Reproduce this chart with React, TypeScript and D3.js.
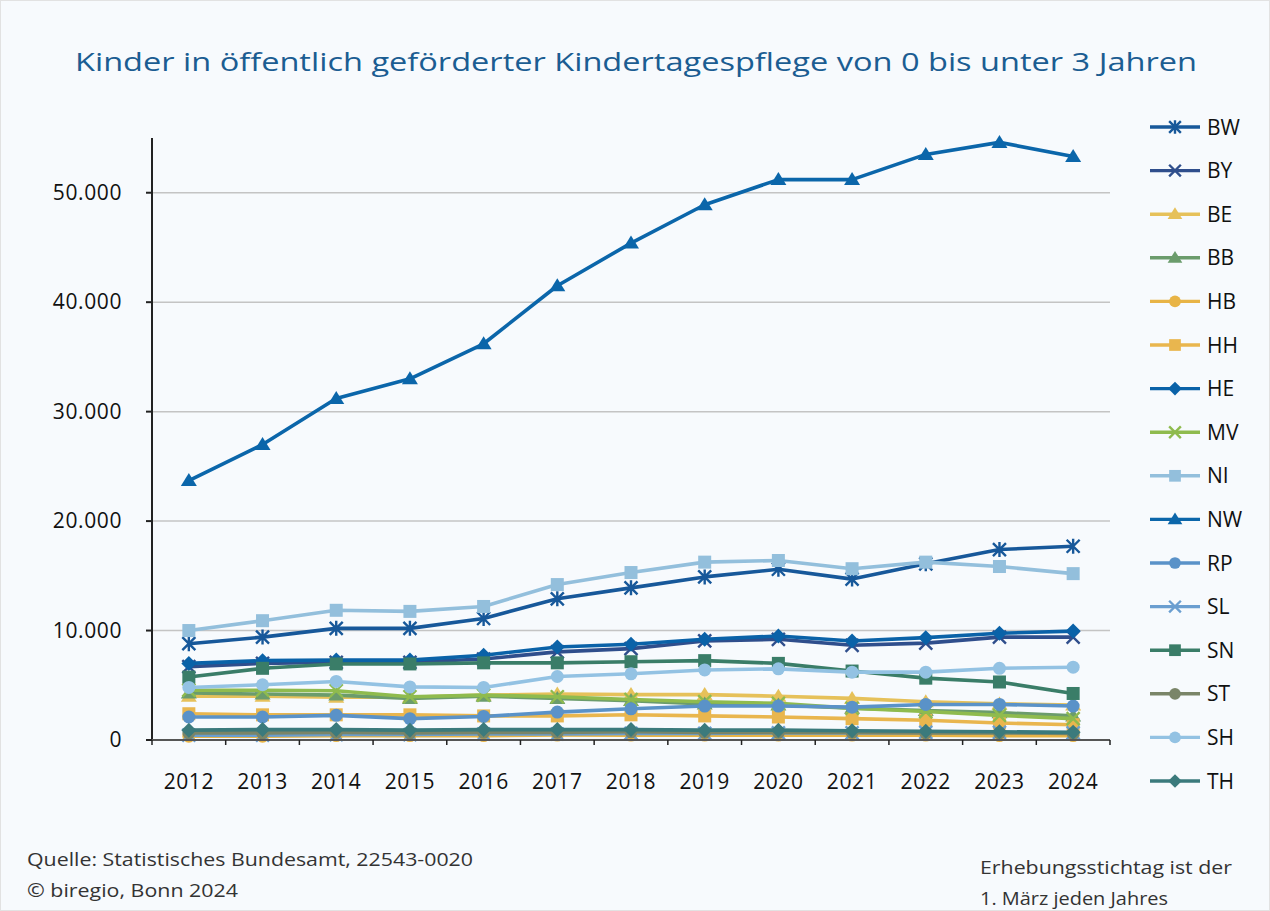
import React from "react";
import * as d3 from "d3";

const years = ["2012","2013","2014","2015","2016","2017","2018","2019","2020","2021","2022","2023","2024"];
const yTicks = [0, 10000, 20000, 30000, 40000, 50000];

const BW = [8800, 9400, 10200, 10200, 11100, 12900, 13900, 14900, 15600, 14700, 16100, 17400, 17700];
const BY = [6700, 7000, 7100, 7100, 7400, 8050, 8350, 9050, 9200, 8650, 8850, 9400, 9400];
const BE = [4000, 4000, 3900, 3900, 4100, 4200, 4150, 4150, 4000, 3800, 3500, 3300, 3200];
const BB = [4300, 4200, 4100, 3800, 4000, 3800, 3600, 3300, 3200, 2900, 2700, 2500, 2200];
const HB = [350, 350, 400, 400, 400, 450, 450, 450, 450, 450, 450, 400, 400];
const HH = [2400, 2300, 2300, 2300, 2200, 2200, 2300, 2200, 2100, 1950, 1800, 1550, 1400];
const HE = [7000, 7250, 7300, 7300, 7750, 8500, 8750, 9200, 9500, 9050, 9350, 9750, 9950];
const MV = [4550, 4550, 4500, 3950, 4100, 3950, 3700, 3500, 3350, 2900, 2600, 2250, 1950];
const NI = [10000, 10900, 11850, 11750, 12200, 14200, 15300, 16250, 16400, 15650, 16250, 15850, 15200];
const NW = [23700, 27000, 31200, 33000, 36200, 41500, 45400, 48900, 51200, 51200, 53500, 54600, 53300];
const RP = [2100, 2100, 2250, 1950, 2150, 2550, 2850, 3100, 3100, 3000, 3250, 3250, 3100];
const SL = [450, 450, 500, 500, 550, 550, 600, 600, 650, 650, 700, 700, 650];
const SN = [5750, 6550, 6950, 6950, 7050, 7050, 7150, 7250, 7000, 6300, 5650, 5300, 4250];
const ST = [650, 650, 700, 650, 700, 700, 750, 700, 700, 700, 650, 650, 600];
const SH = [4800, 5050, 5350, 4850, 4800, 5800, 6050, 6400, 6500, 6200, 6200, 6550, 6650];
const TH = [900, 950, 950, 900, 950, 950, 950, 900, 900, 850, 800, 750, 700];

type Shape = "asterisk" | "x" | "triangle" | "circle" | "square" | "diamond";
const series: { name: string; values: number[]; color: string; shape: Shape }[] = [
  { name: "BW", values: BW, color: "#17589a", shape: "asterisk" },
  { name: "BY", values: BY, color: "#2f4e8c", shape: "x" },
  { name: "BE", values: BE, color: "#e6c15a", shape: "triangle" },
  { name: "BB", values: BB, color: "#6b9c6c", shape: "triangle" },
  { name: "HB", values: HB, color: "#e8b446", shape: "circle" },
  { name: "HH", values: HH, color: "#e9b64e", shape: "square" },
  { name: "HE", values: HE, color: "#0a62a8", shape: "diamond" },
  { name: "MV", values: MV, color: "#8fbb4e", shape: "x" },
  { name: "NI", values: NI, color: "#93bfdc", shape: "square" },
  { name: "NW", values: NW, color: "#0b66aa", shape: "triangle" },
  { name: "RP", values: RP, color: "#5a92c8", shape: "circle" },
  { name: "SL", values: SL, color: "#6a9ed0", shape: "x" },
  { name: "SN", values: SN, color: "#3a7d68", shape: "square" },
  { name: "ST", values: ST, color: "#7a8568", shape: "circle" },
  { name: "SH", values: SH, color: "#93c2e3", shape: "circle" },
  { name: "TH", values: TH, color: "#3b7a7c", shape: "diamond" },
];

const W = 1270, H = 911;
const left = 152, right = 1110, top = 138, bottom = 740;
const FONT = "'Open Sans', 'Noto Sans', sans-serif";

const de = d3.formatLocale({ decimal: ",", thousands: ".", grouping: [3], currency: ["", "€"] });
const fmt = de.format(",");

function Marker({ shape, x, y, color, s = 1 }: { shape: Shape; x: number; y: number; color: string; s?: number }) {
  const r = 6.5 * s;
  switch (shape) {
    case "circle":
      return <circle cx={x} cy={y} r={r} fill={color} />;
    case "square":
      return <rect x={x - r} y={y - r} width={2 * r} height={2 * r} fill={color} />;
    case "diamond":
      return <path d={`M${x},${y - r - 1}L${x + r + 1},${y}L${x},${y + r + 1}L${x - r - 1},${y}Z`} fill={color} />;
    case "triangle":
      return <path d={`M${x},${y - r - 1}L${x + r + 1.5},${y + r - 1}L${x - r - 1.5},${y + r - 1}Z`} fill={color} />;
    case "x":
      return <path d={`M${x - r},${y - r}L${x + r},${y + r}M${x - r},${y + r}L${x + r},${y - r}`} stroke={color} strokeWidth={2.4} />;
    case "asterisk":
      return <path d={`M${x - r},${y - r}L${x + r},${y + r}M${x - r},${y + r}L${x + r},${y - r}M${x},${y - r - 1}L${x},${y + r + 1}`} stroke={color} strokeWidth={2.4} />;
  }
}

export default function App() {
  const x = d3.scaleBand<string>().domain(years).range([left, right]).padding(0);
  const y = d3.scaleLinear().domain([0, 55000]).range([bottom, top]);
  const cx = (yr: string) => (x(yr) as number) + x.bandwidth() / 2;
  const line = d3.line<number>().x((_, i) => cx(years[i])).y((v) => y(v));

  const legX = 1150, legY0 = 127, legStep = 43.6;

  return (
    <svg width={W} height={H} style={{ position: "absolute", left: 0, top: 0, background: "#f7fafd" }}>
      <rect x={0.5} y={0.5} width={W - 1} height={H - 1} fill="#f7fafd" stroke="#e2e2e2" />
      <text x={636} y={71} textAnchor="middle" fontFamily={FONT} fontSize={26} fontWeight={500} fill="#1b5d92" textLength={1122} lengthAdjust="spacingAndGlyphs">
        Kinder in öffentlich geförderter Kindertagespflege von 0 bis unter 3 Jahren
      </text>

      {yTicks.map((t) => (
        <g key={t}>
          {t > 0 && <line x1={left} x2={right} y1={y(t)} y2={y(t)} stroke="#c4c4c4" strokeWidth={1.5} />}
          <line x1={left - 6} x2={left} y1={y(t)} y2={y(t)} stroke="#222" strokeWidth={2} />
          <text x={122} y={y(t) + 7} textAnchor="end" fontFamily={FONT} fontSize={21} fontWeight={500} fill="#111" letterSpacing={0.6}>
            {fmt(t)}
          </text>
        </g>
      ))}

      {series.map((s) => (
        <g key={s.name}>
          <path d={line(s.values) as string} fill="none" stroke={s.color} strokeWidth={3.6} strokeLinejoin="round" />
          {s.values.map((v, i) => (
            <Marker key={i} shape={s.shape} x={cx(years[i])} y={y(v)} color={s.color} />
          ))}
        </g>
      ))}

      <line x1={left} x2={left} y1={top} y2={bottom} stroke="#222" strokeWidth={2} />
      <line x1={left} x2={right} y1={bottom} y2={bottom} stroke="#555" strokeWidth={2} />
      {years.map((yr) => (
        <line key={yr} x1={x(yr) as number} x2={x(yr) as number} y1={bottom} y2={bottom + 5} stroke="#222" strokeWidth={1.5} />
      ))}
      <line x1={right} x2={right} y1={bottom} y2={bottom + 5} stroke="#222" strokeWidth={1.5} />
      {years.map((yr) => (
        <text key={yr} x={cx(yr)} y={789} textAnchor="middle" fontFamily={FONT} fontSize={21} fontWeight={500} fill="#111" letterSpacing={0.6}>
          {yr}
        </text>
      ))}

      {series.map((s, i) => {
        const ly = legY0 + i * legStep;
        return (
          <g key={s.name}>
            <line x1={legX} x2={legX + 50} y1={ly} y2={ly} stroke={s.color} strokeWidth={3.4} />
            <Marker shape={s.shape} x={legX + 25} y={ly} color={s.color} s={0.9} />
            <text x={legX + 57} y={ly + 7.5} fontFamily={FONT} fontSize={21} fontWeight={500} fill="#111">
              {s.name}
            </text>
          </g>
        );
      })}

      <text x={27} y={866} fontFamily={FONT} fontSize={18} fill="#333" textLength={446} lengthAdjust="spacingAndGlyphs">Quelle: Statistisches Bundesamt, 22543-0020</text>
      <text x={27} y={897} fontFamily={FONT} fontSize={18} fill="#333" textLength={211} lengthAdjust="spacingAndGlyphs">© biregio, Bonn 2024</text>
      <text x={980} y={874} fontFamily={FONT} fontSize={18} fill="#333" textLength={252} lengthAdjust="spacingAndGlyphs">Erhebungsstichtag ist der</text>
      <text x={980} y={905} fontFamily={FONT} fontSize={18} fill="#333" textLength={188} lengthAdjust="spacingAndGlyphs">1. März jeden Jahres</text>
    </svg>
  );
}
